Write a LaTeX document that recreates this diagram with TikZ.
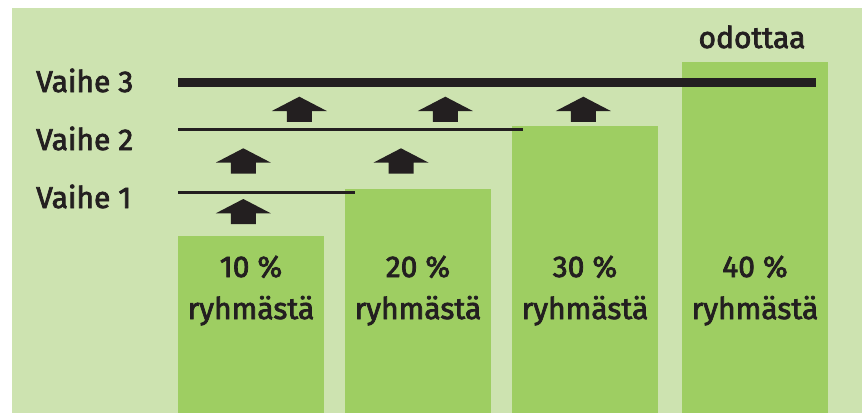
\documentclass[tikz,border=0pt]{standalone}
\usepackage{fontspec}
\newfontfamily\lblfont{Fira Sans}[FakeBold=2.5]
\definecolor{bgc}{RGB}{205,227,176}
\definecolor{barc}{RGB}{158,206,98}
\definecolor{ink}{RGB}{35,31,32}
\tikzset{
  bar/.style={fill=barc, draw=none, inner sep=0pt, outer sep=0pt, minimum width=146pt, anchor=north west},
  lbl/.style={font=\lblfont\fontsize{30}{35}\selectfont, text=ink, inner sep=0pt, anchor=base},
  vlbl/.style={lbl, anchor=base west},
  thinline/.style={draw=ink, line width=3pt},
  thickline/.style={draw=ink, line width=9pt},
  pics/uparr/.style={code={
    \fill[ink] (0,0) -- (27.5,14.3) -- (12.5,14.3) -- (12.5,25.2) -- (-12.5,25.2) -- (-12.5,14.3) -- (-27.5,14.3) -- cycle;
  }}
}
\begin{document}
\begin{tikzpicture}[x=1pt,y=-1pt]
\useasboundingbox (0,0) rectangle (862,413);
\fill[white] (0,0) rectangle (862,413);
\fill[bgc] (12,8) rectangle (862,413);
% bars
\node[bar, minimum height=177pt] (b1) at (178,236) {};
\node[bar, minimum height=224pt] (b2) at (345,189) {};
\node[bar, minimum height=287pt] (b3) at (512,126) {};
\node[bar, minimum height=351pt] (b4) at (682,62) {};
% bar texts
\node[lbl] (p1) at (251,277) {10 \%};
\node[lbl] (r1) at (251,319) {ryhmästä};
\node[lbl] (p2) at (418,277) {20 \%};
\node[lbl] (r2) at (418,319) {ryhmästä};
\node[lbl] (p3) at (585,277) {30 \%};
\node[lbl] (r3) at (585,319) {ryhmästä};
\node[lbl] (p4) at (755,277) {40 \%};
\node[lbl] (r4) at (755,319) {ryhmästä};
\node[lbl] (od) at (752,48) {odottaa};
% stage labels
\node[vlbl] (v3) at (36,92) {Vaihe 3};
\node[vlbl] (v2) at (36,150) {Vaihe 2};
\node[vlbl] (v1) at (36,208) {Vaihe 1};
% stage lines
\coordinate (l3s) at (178,82.5); \coordinate (l3e) at (816,82.5);
\coordinate (l2s) at (178,129.5); \coordinate (l2e) at (523,129.5);
\coordinate (l1s) at (178,192.5); \coordinate (l1e) at (355,192.5);
\draw[thickline] (l3s) -- (l3e);
\draw[thinline] (l2s) -- (l2e);
\draw[thinline] (l1s) -- (l1e);
% arrows
\pic at (299.3,96.7) {uparr};
\pic at (445.3,96.7) {uparr};
\pic at (583.3,96.7) {uparr};
\pic at (243.3,148.3) {uparr};
\pic at (401,148.3) {uparr};
\pic at (243.3,199) {uparr};
\end{tikzpicture}
\end{document}
